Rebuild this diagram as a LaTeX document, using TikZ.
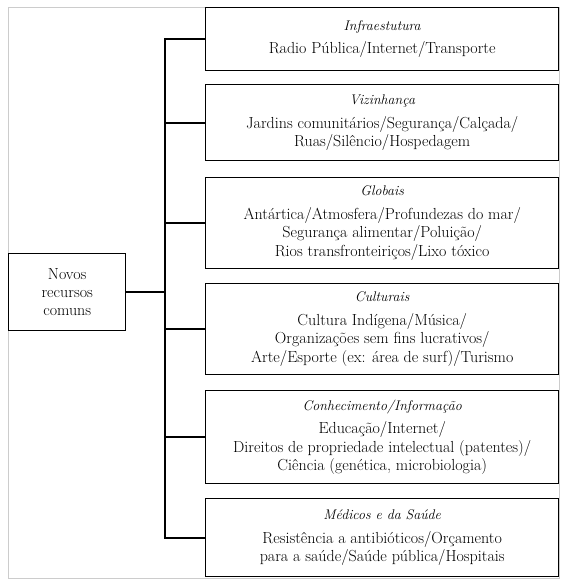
\documentclass[tikz,border=0pt]{standalone}
\begin{document}
\begin{tikzpicture}[x=1pt,y=-1pt,
  box/.style={draw=black, line width=1.4pt, rectangle, anchor=north west, align=center,
    minimum width=353pt, inner sep=0pt, font=\fontsize{16}{18.5}\selectfont},
  rootbox/.style={draw=black, line width=1.4pt, rectangle, anchor=north west, align=center,
    minimum width=117pt, minimum height=77pt, inner sep=0pt, font=\fontsize{16}{18}\selectfont},
  tree/.style={line width=1.6pt, black}]
\useasboundingbox (0,0) rectangle (567,584);
\draw[gray!40, line width=0.8pt] (8,7) rectangle (559.5,578);
\newcommand{\hdr}[1]{{\fontsize{14}{15}\selectfont\itshape #1}\\[5pt]}
\node[rootbox] (root) at (8,253) {Novos\\recursos\\comuns};
\node[box, minimum height=63pt] (b1) at (205,7) {\hdr{Infraestutura}Radio Pública/Internet/Transporte};
\node[box, minimum height=76pt] (b2) at (205,84) {\hdr{Vizinhança}Jardins comunitários/Segurança/Calçada/\\Ruas/Silêncio/Hospedagem};
\node[box, minimum height=91pt] (b3) at (205,177) {\hdr{Globais}Antártica/Atmosfera/Profundezas do mar/\\Segurança alimentar/Poluição/\\Rios transfronteiriços/Lixo tóxico};
\node[box, minimum height=91pt] (b4) at (205,283) {\hdr{Culturais}Cultura Indígena/Música/\\Organizações sem fins lucrativos/\\Arte/Esporte (ex: área de surf)/Turismo};
\node[box, minimum height=93pt] (b5) at (205,390) {\hdr{Conhecimento/Informação}Educação/Internet/\\Direitos de propriedade intelectual (patentes)/\\Ciência (genética, microbiologia)};
\node[box, minimum height=78pt] (b6) at (205,498) {\hdr{Médicos e da Saúde}Resistência a antibióticos/Orçamento\\para a saúde/Saúde pública/Hospitais};
\coordinate (sp) at (165,0);
\draw[tree] (b1.west) -- (b1.west -| sp) -- (b6.west -| sp) -- (b6.west);
\foreach \b in {b2,b3,b4,b5} \draw[tree] (\b.west) -- (\b.west -| sp);
\draw[tree] (root.east) -- (root.east -| sp);
\end{tikzpicture}
\end{document}
